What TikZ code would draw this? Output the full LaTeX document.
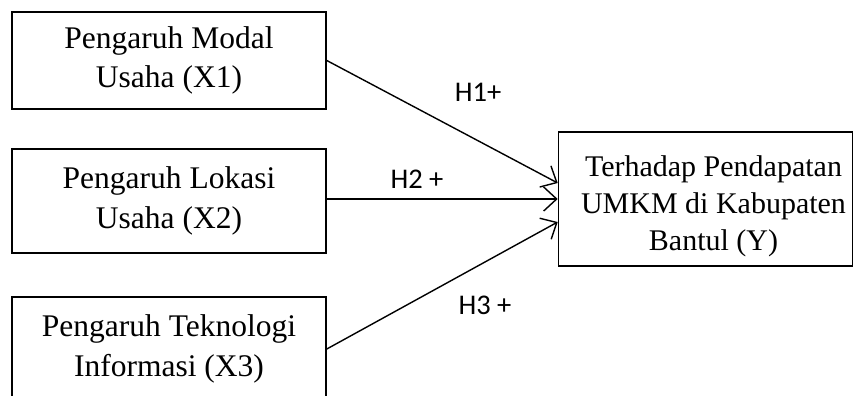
\documentclass[tikz,border=0pt]{standalone}
\usepackage{fontspec}
\setmainfont{Liberation Serif}
\newfontfamily\labelfont{Carlito}
\usetikzlibrary{arrows.meta, positioning}
\tikzset{
	var/.style={draw, line width=1.6pt, align=center, inner sep=0pt,
		font=\fontsize{31.5}{39.5}\selectfont}, % Kotak variabel
	hyp/.style={font=\labelfont\fontsize{28.5}{30}\selectfont}, % Label hipotesis
	path/.style={line width=1.4pt, -{Straight Barb[length=13pt,width=24pt,line width=1.4pt]}}
}

\begin{document}
\begin{tikzpicture}[x=1pt,y=-1pt]
	\clip (0,0) rectangle (854,396);
	\node[var, minimum width=314pt, minimum height=97pt] (x1) at (169,60.5) {Pengaruh Modal\\Usaha (X1)};
	\node[var, minimum width=314pt, minimum height=104pt] (x2) at (169,201) {Pengaruh Lokasi\\Usaha (X2)};
	\node[var, minimum width=314pt, minimum height=104pt] (x3) at (169,349) {Pengaruh Teknologi\\Informasi (X3)};
	\node[var, minimum width=294pt, minimum height=134pt,
		label={[shift={(8pt,-7pt)}, align=center, font=\fontsize{30}{37}\selectfont]center:Terhadap Pendapatan\\UMKM di Kabupaten\\Bantul (Y)}] (y) at (705.5,199) {};
	\node[hyp] (h1) at (478,92) {H1+};
	\node[hyp] (h2) at (417,179) {H2 +};
	\node[hyp] (h3) at (485,305) {H3 +};
	\draw[path] (x1.east) -- ([yshift=16pt]y.west);
	\draw[path] ([yshift=2pt]x2.east) -- (y.west);
	\draw[path] (x3.east) -- ([yshift=-23pt]y.west);
\end{tikzpicture}
\end{document}
